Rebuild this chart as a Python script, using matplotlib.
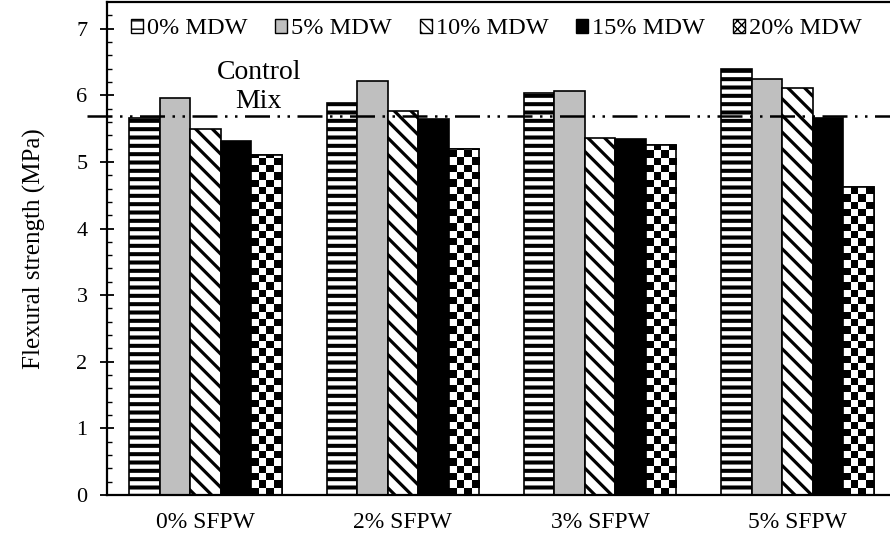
import numpy as np
import matplotlib
matplotlib.use("Agg")
import matplotlib.pyplot as plt
from matplotlib.patches import Patch

plt.rcParams['font.family'] = ['Liberation Serif', 'DejaVu Serif']

# data
groups = ["0% SFPW", "2% SFPW", "3% SFPW", "5% SFPW"]
series = ["0% MDW", "5% MDW", "10% MDW", "15% MDW", "20% MDW"]
mdw0 = [5.66, 5.89, 6.03, 6.39]
mdw5 = [5.96, 6.22, 6.07, 6.25]
mdw10 = [5.50, 5.77, 5.36, 6.11]
mdw15 = [5.32, 5.65, 5.35, 5.66]
mdw20 = [5.10, 5.20, 5.25, 4.62]
control_mix = 5.69

values = [mdw0, mdw5, mdw10, mdw15, mdw20]

fig = plt.figure(figsize=(8.9, 5.37), dpi=100)
ax = fig.add_axes([107/890, 1 - 495/537, 789/890, 493/537])

x = np.arange(len(groups))
w = 0.1547
styles = [
    dict(facecolor='white', hatch='--', hlw=2.9),
    dict(facecolor='#BFBFBF', hatch=None, hlw=1.0),
    dict(facecolor='white', hatch='\\\\', hlw=2.3),
    dict(facecolor='black', hatch=None, hlw=1.0),
    dict(facecolor='white', hatch=None, hlw=1.0),
]

for i, vals in enumerate(values):
    st = styles[i]
    with plt.rc_context({'hatch.linewidth': st['hlw'], 'hatch.color': 'black'}):
        bars = ax.bar(x + (i - 2) * w, vals, w, facecolor=st['facecolor'],
                      edgecolor='black', linewidth=1.2, hatch=st['hatch'], zorder=2)
    for b in bars:
        if hasattr(b, 'set_hatch_linewidth'):
            b.set_hatch_linewidth(st['hlw'])
    if i == 4:
        # checkerboard fill, clipped to each bar
        sq_y = 0.11
        for b, v in zip(bars, vals):
            rows = int(np.ceil(v / sq_y))
            pat = (np.add.outer(np.arange(rows), np.arange(4)) % 2).astype(float)
            x0 = b.get_x()
            im = ax.imshow(pat, cmap='gray', extent=(x0, x0 + w, 0, rows * sq_y),
                           origin='lower', aspect='auto', interpolation='nearest',
                           zorder=2.5, vmin=0, vmax=1)
            im.set_clip_path(b)
            # redraw outline on top
            ax.bar(x0 + w / 2, v, w, facecolor='none', edgecolor='black',
                   linewidth=1.2, zorder=3)

# control mix line
ax.plot([-0.6, 3.6], [control_mix, control_mix], color='black', lw=1.8,
        linestyle=(0, (10, 3, 1, 3, 1, 3)), zorder=4, clip_on=False)
ax.text(0.27, 6.13, "Control\nMix", ha='center', va='center', fontsize=20,
        linespacing=1.2, zorder=5)

ax.set_xlim(-0.5, 3.5)
ax.set_ylim(0, 7.4)
ax.set_xticks(x)
ax.set_xticklabels(groups, fontsize=17)
ax.tick_params(axis='x', length=0, pad=12)
ax.set_yticks(range(0, 8))
ax.set_yticks(np.arange(0, 7.4, 0.2), minor=True)
ax.tick_params(axis='y', which='major', direction='inout', length=10, width=1.3,
               labelsize=16, pad=9)
ax.tick_params(axis='y', which='minor', direction='in', length=3.6, width=1.0)
ax.set_ylabel("Flexural strength (MPa)", fontsize=18, labelpad=22)
for s in ax.spines.values():
    s.set_linewidth(1.6)

leg_handles = [
    Patch(facecolor='white', edgecolor='black', hatch='--'),
    Patch(facecolor='#BFBFBF', edgecolor='black'),
    Patch(facecolor='white', edgecolor='black', hatch='\\\\\\'),
    Patch(facecolor='black', edgecolor='black'),
    Patch(facecolor='white', edgecolor='black', hatch='xxxx'),
]
ax.legend(leg_handles, series, loc='center left', ncol=5, frameon=False,
          bbox_to_anchor=(131/890, 1 - 29/537), bbox_transform=fig.transFigure,
          borderaxespad=0, borderpad=0, fontsize=17.5, handlelength=0.5,
          handleheight=0.5, handletextpad=0.15, columnspacing=1.15)

fig.savefig("out.png", dpi=100)
